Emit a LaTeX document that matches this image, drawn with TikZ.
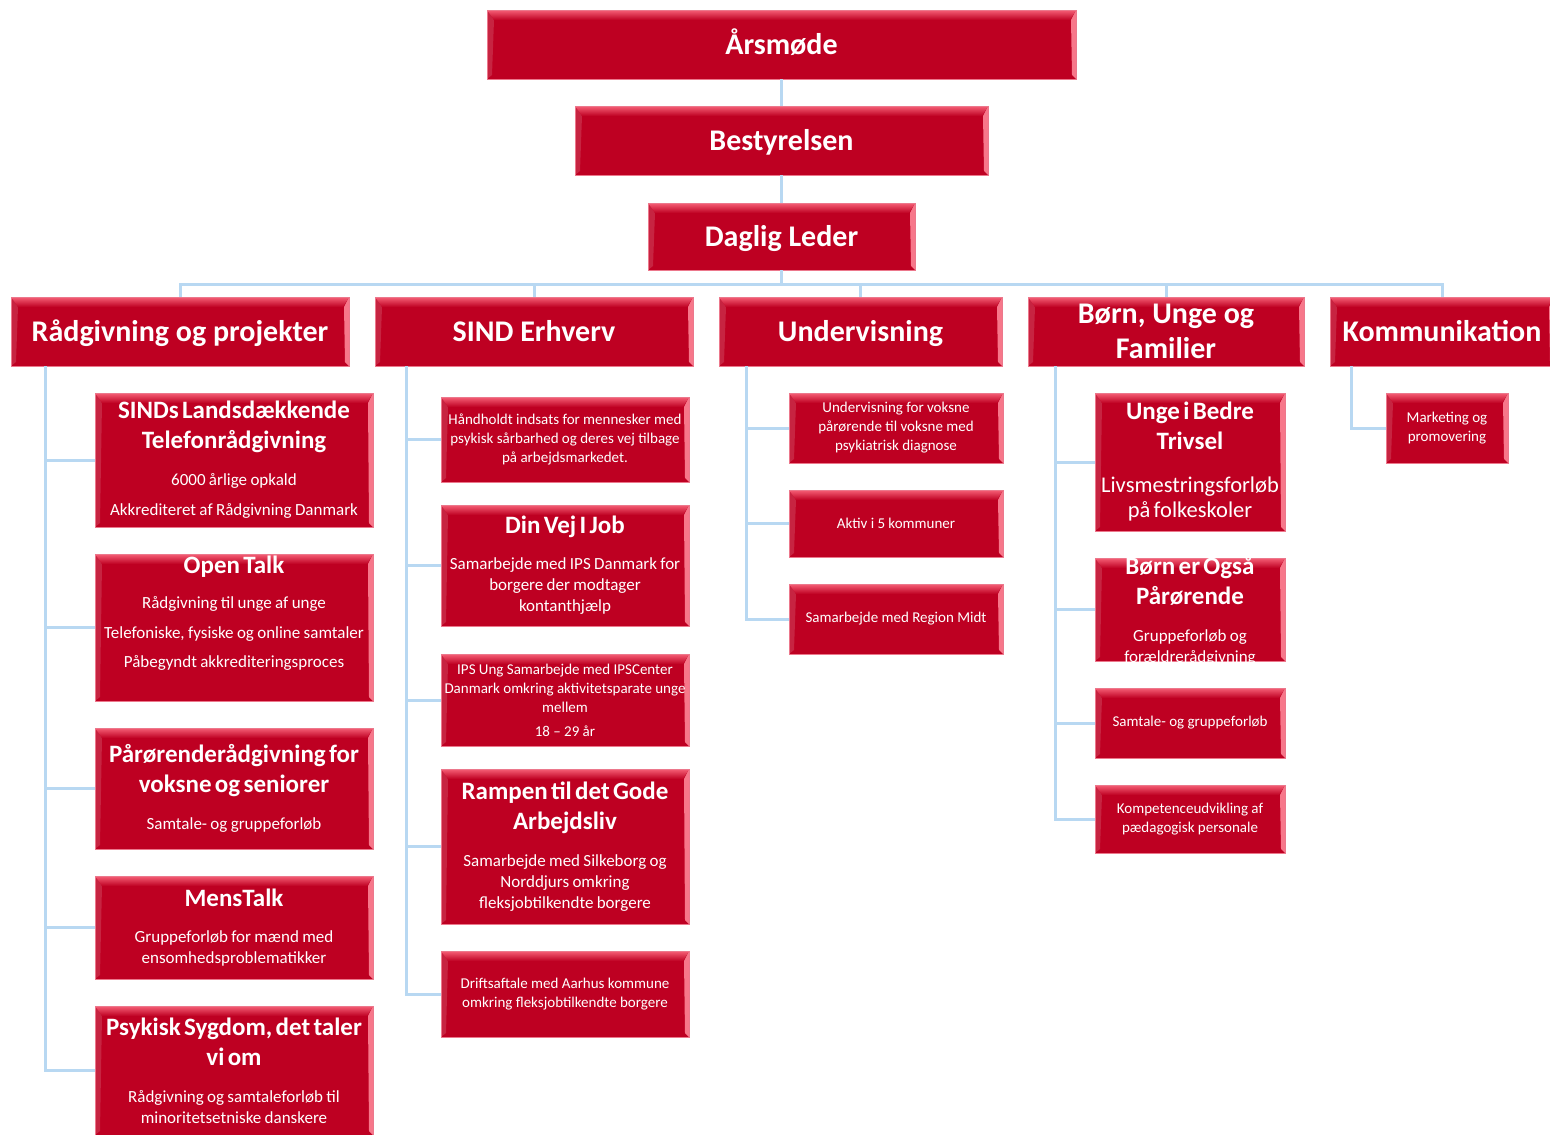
\documentclass[tikz,border=0pt]{standalone}
\usepackage{fontspec}
\setmainfont{Carlito}
\usetikzlibrary{positioning}

\definecolor{boxred}{RGB}{190,0,34}
\definecolor{boxhi}{RGB}{245,95,118}
\definecolor{boxedge}{RGB}{236,120,140}
\definecolor{linkblue}{RGB}{184,216,242}

\newcommand{\ttl}[1]{{\bfseries\fontsize{25}{30}\selectfont #1\par}}
\newcommand{\dsc}[1]{{\fontsize{17}{21}\selectfont #1\par}}
\newcommand{\sml}[1]{{\fontsize{15}{19}\selectfont #1\par}}

\begin{document}
\begin{tikzpicture}[x=1pt, y=1pt,
    link/.style = {draw=linkblue, line width=3pt},
    box/.style = {draw=boxedge, line width=1pt, fill=boxred, text=white, align=center, inner sep=2pt, outer sep=0pt,
        path picture={
            \fill[boxred!86!white] (path picture bounding box.north west) -- ([xshift=7pt,yshift=-10pt]path picture bounding box.north west)
                -- ([xshift=5pt,yshift=4pt]path picture bounding box.south west) -- (path picture bounding box.south west) -- cycle;
            \shade[top color=boxhi, bottom color=boxred] (path picture bounding box.north west) -- (path picture bounding box.north east)
                -- ([xshift=-6pt,yshift=-10pt]path picture bounding box.north east) -- ([xshift=7pt,yshift=-10pt]path picture bounding box.north west) -- cycle;
            \fill[boxhi!85!white] (path picture bounding box.north east) -- ([xshift=-5pt,yshift=-10pt]path picture bounding box.north east)
                -- ([xshift=-4pt,yshift=4pt]path picture bounding box.south east) -- (path picture bounding box.south east) -- cycle;
        }},
    head/.style = {box, font=\bfseries\fontsize{30}{35}\selectfont},
    one/.style = {text height=24pt, text depth=5pt},
    rcol/.style = {box, minimum width=278pt, text width=274pt},
    scol/.style = {box, minimum width=248pt, text width=244pt},
    ucol/.style = {box, minimum width=214pt, text width=210pt},
    bcol/.style = {box, minimum width=190pt, text width=186pt},
    kcol/.style = {box, minimum width=122pt, text width=118pt}]
    \useasboundingbox (0,0) rectangle (1550,-1135);

    \node[head, one, minimum width=589pt, minimum height=69pt] (1) at (781.5,-44.5) {Årsmøde};
    \node[head, one, minimum width=413pt, minimum height=69pt, below=27pt of 1] (2) {Bestyrelsen};
    \node[head, one, minimum width=267pt, minimum height=67pt, below=28pt of 2] (3) {Daglig Leder};

    \node[head, one, minimum width=338pt, minimum height=69pt] (4) at (180,-331.5) {Rådgivning og projekter};
    \node[head, one, minimum width=318pt, minimum height=69pt, right=26pt of 4] (5) {SIND Erhverv};
    \node[head, one, minimum width=283pt, minimum height=69pt, right=26pt of 5] (6) {Undervisning};
    \node[head, minimum width=276pt, minimum height=69pt, right=26pt of 6] (7) {Børn, Unge og\\Familier};
    \node[head, one, minimum width=224pt, minimum height=69pt, right=26pt of 7] (8) {Kommunikation};

    \node[rcol, minimum height=134pt, anchor=north] (9) at (234,-393)
        {\ttl{SINDs Landsdækkende\\Telefonrådgivning}\vspace{16pt}\dsc{6000 årlige opkald}\vspace{9pt}\dsc{Akkrediteret af Rådgivning Danmark}};
    \node[rcol, minimum height=147pt, below=27pt of 9] (10)
        {\ttl{Open Talk}\vspace{14pt}\dsc{Rådgivning til unge af unge}\vspace{9pt}\dsc{\mbox{Telefoniske, fysiske og online samtaler}}\vspace{8pt}\dsc{Påbegyndt akkrediteringsproces}\vspace{28pt}};
    \node[rcol, minimum height=121pt, below=27pt of 10] (11)
        {\ttl{Pårørenderådgivning for\\voksne og seniorer}\vspace{16pt}\dsc{Samtale- og gruppeforløb}};
    \node[rcol, minimum height=103pt, below=27pt of 11] (12)
        {\ttl{MensTalk}\vspace{15pt}\dsc{Gruppeforløb for mænd med\\ensomhedsproblematikker}};
    \node[rcol, minimum height=129pt, below=27pt of 12] (13)
        {\ttl{Psykisk Sygdom, det taler\\vi om}\vspace{16pt}\dsc{Rådgivning og samtaleforløb til\\minoritetsetniske danskere}};

    \node[scol, minimum height=85pt, anchor=north] (14) at (565,-397)
        {\sml{Håndholdt indsats for mennesker med\\psykisk sårbarhed og deres vej tilbage\\på arbejdsmarkedet.}};
    \node[scol, minimum height=121pt, below=23pt of 14] (15)
        {\ttl{Din Vej I Job}\vspace{15pt}\dsc{\mbox{Samarbejde med IPS Danmark for}\\borgere der modtager\\kontanthjælp}};
    \node[scol, minimum height=92pt, below=28pt of 15] (16)
        {\sml{IPS Ung Samarbejde med IPSCenter\\\mbox{Danmark omkring aktivitetsparate unge}\\mellem}\vspace{5pt}\sml{18 – 29 år}};
    \node[scol, minimum height=155pt, below=23pt of 16] (17)
        {\ttl{Rampen til det Gode\\Arbejdsliv}\vspace{16pt}\dsc{Samarbejde med Silkeborg og\\Norddjurs omkring\\fleksjobtilkendte borgere}};
    \node[scol, minimum height=86pt, below=27pt of 17] (18)
        {\sml{Driftsaftale med Aarhus kommune\\omkring fleksjobtilkendte borgere}};

    \node[ucol, minimum height=70pt, anchor=north] (19) at (896,-393)
        {\sml{Undervisning for voksne\\pårørende til voksne med\\psykiatrisk diagnose}};
    \node[ucol, minimum height=67pt, below=27pt of 19] (20) {\sml{Aktiv i 5 kommuner}};
    \node[ucol, minimum height=70pt, below=27pt of 20] (21) {\sml{Samarbejde med Region Midt}};

    \node[bcol, minimum height=138pt, anchor=north] (22) at (1190,-393)
        {\ttl{Unge i Bedre\\Trivsel}\vspace{18pt}{\fontsize{22.5}{25}\selectfont Livsmestringsforløb\\på folkeskoler\par}};
    \node[bcol, minimum height=103pt, below=27pt of 22] (23) {};
    \begin{scope}
        \clip (23.south west) rectangle (23.north east);
        \node[text=white, align=center, text width=186pt, yshift=-1.5pt] at (23.center)
            {\ttl{Børn er Også\\Pårørende}\vspace{16pt}\dsc{Gruppeforløb og\\forældrerådgivning}};
    \end{scope}
    \node[bcol, minimum height=70pt, below=27pt of 23] (24) {\sml{Samtale- og gruppeforløb}};
    \node[bcol, minimum height=68pt, below=27pt of 24] (25) {\sml{Kompetenceudvikling af\\pædagogisk personale}};

    \node[kcol, minimum height=70pt, anchor=north] (26) at (1447,-393) {\sml{Marketing og\\promovering}};

    \draw[link] (1.south) -- (1.south |- 2.north);
    \draw[link] (2.south) -- (2.south |- 3.north);
    \coordinate (bus) at ([yshift=-14pt]3.south);
    \foreach \n in {4,...,8} \draw[link] (3.south) -- (bus) -| (\n.north);

    \coordinate (r) at ([xshift=34pt]4.south west);
    \coordinate (s) at ([xshift=31pt]5.south west);
    \coordinate (u) at ([xshift=27pt]6.south west);
    \coordinate (b) at ([xshift=27pt]7.south west);
    \coordinate (k) at ([xshift=21pt]8.south west);
    \foreach \n in {9,...,13} \draw[link] (r) |- (\n.west);
    \foreach \n in {14,...,18} \draw[link] (s) |- (\n.west);
    \foreach \n in {19,...,21} \draw[link] (u) |- (\n.west);
    \foreach \n in {22,...,25} \draw[link] (b) |- (\n.west);
    \draw[link] (k) |- (26.west);
\end{tikzpicture}
\end{document}
